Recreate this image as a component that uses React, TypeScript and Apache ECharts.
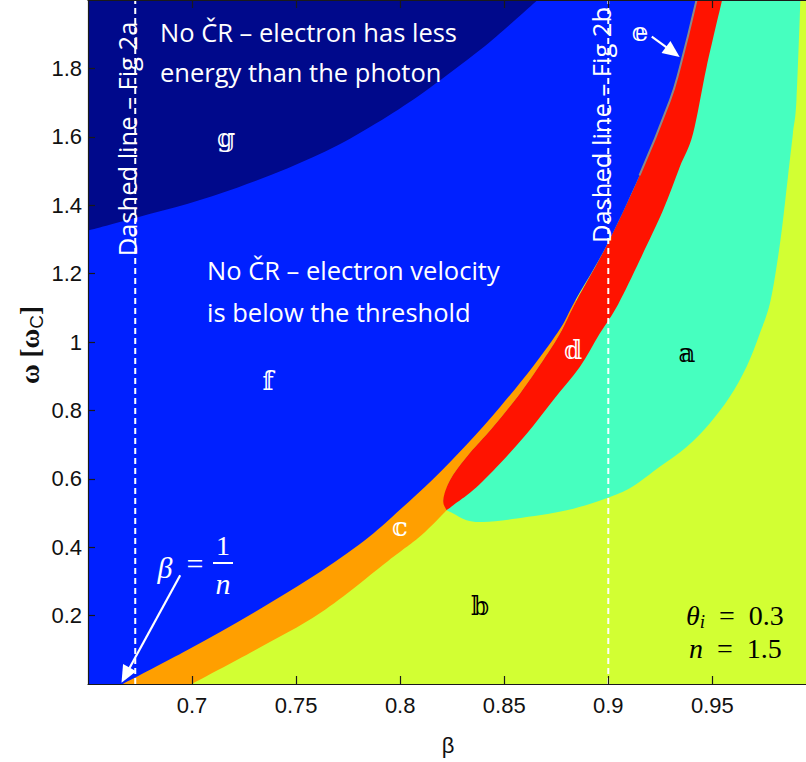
import React, { useEffect, useRef } from "react";
import * as echarts from "echarts";

// ---- axis ranges and ticks ----
const X_RANGE = [0.65, 0.995];
const Y_RANGE = [0, 2];
const X_TICKS = [0.7, 0.75, 0.8, 0.85, 0.9, 0.95];
const Y_TICKS = [0.2, 0.4, 0.6, 0.8, 1, 1.2, 1.4, 1.6, 1.8];

// ---- region boundary curves [beta, omega] ----
// upper boundary of the "electron has less energy" region (g)
const NAVY_CURVE = [
  [0.65, 1.326], [0.674, 1.365], [0.698, 1.404], [0.722, 1.452], [0.746, 1.508],
  [0.77, 1.575], [0.794, 1.66], [0.814, 1.742], [0.838, 1.852], [0.854, 1.935], [0.866, 2.0],
];
// Cherenkov threshold curve (boundary of region f)
const CURVE_B = [
  [0.6667, 0], [0.698, 0.1], [0.73, 0.21], [0.762, 0.33], [0.785, 0.43], [0.8, 0.51],
  [0.816, 0.6], [0.832, 0.7], [0.848, 0.81], [0.864, 0.93], [0.877, 1.04], [0.884, 1.12],
  [0.899, 1.28], [0.915, 1.487], [0.9296, 1.706], [0.9343, 1.8], [0.9424, 2.0],
];
// lower boundary of region c
const CURVE_O = [
  [0.6997, 0], [0.7302, 0.099], [0.7621, 0.21], [0.7942, 0.36], [0.8102, 0.435], [0.8223, 0.508],
];
// left boundary of region d (below where it meets the threshold curve)
const RED_LEFT = [
  [0.8223, 0.508], [0.8207, 0.5375], [0.8239, 0.596], [0.8319, 0.664], [0.8447, 0.752],
  [0.8575, 0.849], [0.8687, 0.9465], [0.8768, 1.0245], [0.8848, 1.122],
];
// right boundary of region d
const RED_RIGHT = [
  [0.8223, 0.508], [0.8255, 0.523], [0.8351, 0.567], [0.848, 0.645], [0.8608, 0.732],
  [0.8735, 0.83], [0.8863, 0.927], [0.8959, 1.0245], [0.9047, 1.11], [0.9151, 1.239],
  [0.9263, 1.385], [0.9343, 1.511], [0.9407, 1.609], [0.9472, 1.803], [0.9547, 2.0],
];
// lower / right boundary of region a
const CURVE_C = [
  [0.8223, 0.508], [0.8255, 0.4987], [0.8319, 0.479], [0.8399, 0.474], [0.856, 0.484],
  [0.88, 0.508], [0.9008, 0.547], [0.9119, 0.578], [0.9247, 0.635], [0.9376, 0.693],
  [0.9487, 0.762], [0.9583, 0.839], [0.9664, 0.927], [0.9728, 1.025], [0.978, 1.122],
  [0.9827, 1.297], [0.9863, 1.482], [0.9887, 1.609], [0.9904, 1.706], [0.9923, 2.0],
];
// dashed reference lines (Fig 2a, Fig 2b)
const FIG_LINES = [0.6727, 0.9];
// arrows: [from, to]
const ARROWS = [
  [[0.6943, 0.318], [0.6661, 0.004]],
  [[0.9209, 1.893], [0.9343, 1.833]],
];

// ---- colours ----
const C_YELLOW = "#D2FF33";
const C_CYAN = "#46FFBF";
const C_ORANGE = "#FF9F00";
const C_RED = "#FF1300";
const C_BLUE = "#0020FF";
const C_NAVY = "#00098B";
const C_GRAY = "#8A8A8A";
const WHITE = "#FFFFFF";

const xMin = X_RANGE[0];
const yMax = Y_RANGE[1];
const upperB = CURVE_B.filter((p) => p[1] > 1.122);
const RED_LEFT_FULL = [...RED_LEFT, ...upperB];
const GRAY_LINE = CURVE_B.filter((p) => p[1] >= 1.48);
const rev = (a: number[][]) => a.slice().reverse();

// each region: list of boundary curves, joined by straight segments
const REGION_PARTS: number[][][][] = [
  // a (cyan)
  [CURVE_C, rev(RED_LEFT_FULL)],
  // c (orange)
  [[[xMin, 0]], CURVE_O, RED_LEFT.slice(1), [[xMin, RED_LEFT[RED_LEFT.length - 1][1]]]],
  // d (red)
  [RED_LEFT_FULL, rev(RED_RIGHT)],
  // f (blue)
  [[[xMin, 0]], CURVE_B, [[xMin, yMax]]],
  // g (navy)
  [NAVY_CURVE, [[xMin, yMax]]],
];
const REGION_COLORS = [C_CYAN, C_ORANGE, C_RED, C_BLUE, C_NAVY];

const AXIS_FONT = "'Liberation Sans', Arial, sans-serif";
const TEXT_FONT = "'Open Sans', Lato, sans-serif";
const MATH_FONT = "'Liberation Serif', 'DejaVu Serif', serif";
const DS_FONT = "'DejaVu Serif', 'DejaVu Sans', serif";

// Catmull-Rom smoothing of each boundary curve (rendering only)
function smoothPath(curves: number[][][], api: any): string {
  let d = "";
  curves.forEach((curve, ci) => {
    const p = curve.map((pt) => api.coord(pt) as number[]);
    d += (ci === 0 ? "M" : "L") + p[0][0].toFixed(2) + " " + p[0][1].toFixed(2);
    for (let i = 0; i < p.length - 1; i++) {
      const p0 = p[Math.max(i - 1, 0)];
      const p1 = p[i];
      const p2 = p[i + 1];
      const p3 = p[Math.min(i + 2, p.length - 1)];
      const c1x = p1[0] + (p2[0] - p0[0]) / 6;
      const c1y = p1[1] + (p2[1] - p0[1]) / 6;
      const c2x = p2[0] - (p3[0] - p1[0]) / 6;
      const c2y = p2[1] - (p3[1] - p1[1]) / 6;
      d +=
        "C" + c1x.toFixed(2) + " " + c1y.toFixed(2) + " " + c2x.toFixed(2) + " " + c2y.toFixed(2) +
        " " + p2[0].toFixed(2) + " " + p2[1].toFixed(2);
    }
  });
  return d + "Z";
}

function regionLabel(ch: string, x: number, y: number, color: string) {
  return {
    type: "text",
    x,
    y,
    z: 100,
    style: {
      text: ch,
      fill: color,
      fontSize: 26,
      fontFamily: DS_FONT,
      textAlign: "center",
      textVerticalAlign: "middle",
    },
  };
}

function plainText(text: string, x: number, y: number, opts: any = {}) {
  return {
    type: "text",
    x,
    y,
    z: 100,
    rotation: opts.rotation || 0,
    style: {
      text,
      fill: opts.fill || WHITE,
      fontSize: opts.fontSize || 25.5,
      fontFamily: opts.fontFamily || TEXT_FONT,
      fontStyle: opts.fontStyle || "normal",
      textAlign: opts.align || "left",
      textVerticalAlign: "middle",
    },
  };
}

function buildOption() {
  const axisLineStyle = { color: "#1a1a1a", width: 1.2 };
  return {
    animation: false,
    backgroundColor: "#ffffff",
    grid: {
      left: 88,
      right: 0,
      top: 0,
      bottom: 78,
      show: true,
      backgroundColor: C_YELLOW,
      borderWidth: 0,
    },
    xAxis: [
      {
        type: "value",
        min: X_RANGE[0],
        max: X_RANGE[1],
        position: "bottom",
        z: 10,
        axisLine: { show: true, onZero: false, lineStyle: axisLineStyle },
        axisTick: { show: true, inside: true, length: 8, customValues: X_TICKS, lineStyle: axisLineStyle },
        axisLabel: {
          customValues: X_TICKS,
          fontFamily: AXIS_FONT,
          fontSize: 22,
          color: "#111",
          margin: 10,
        },
        splitLine: { show: false },
      },
      {
        type: "value",
        min: X_RANGE[0],
        max: X_RANGE[1],
        position: "top",
        z: 10,
        axisLine: { show: true, onZero: false, lineStyle: axisLineStyle },
        axisTick: { show: true, inside: true, length: 8, customValues: X_TICKS, lineStyle: axisLineStyle },
        axisLabel: { show: false },
        splitLine: { show: false },
      },
    ],
    yAxis: {
      type: "value",
      min: Y_RANGE[0],
      max: Y_RANGE[1],
      z: 10,
      axisLine: { show: true, onZero: false, lineStyle: axisLineStyle },
      axisTick: { show: true, inside: true, length: 7, customValues: Y_TICKS, lineStyle: axisLineStyle },
      axisLabel: {
        customValues: Y_TICKS,
        fontFamily: AXIS_FONT,
        fontSize: 22,
        color: "#111",
        margin: 6,
      },
      splitLine: { show: false },
    },
    series: [
      {
        type: "custom",
        coordinateSystem: "cartesian2d",
        xAxisIndex: 0,
        yAxisIndex: 0,
        clip: true,
        silent: true,
        data: REGION_PARTS.map((_, i) => [i]),
        renderItem: (params: any, api: any) => {
          const i = api.value(0) as number;
          return {
            type: "path",
            shape: { pathData: smoothPath(REGION_PARTS[i], api) },
            style: { fill: REGION_COLORS[i] },
          };
        },
      },
      ...FIG_LINES.map((x) => ({
        type: "line",
        xAxisIndex: 0,
        silent: true,
        symbol: "none",
        showSymbol: false,
        data: [
          [x, Y_RANGE[0]],
          [x, Y_RANGE[1]],
        ],
        lineStyle: { color: WHITE, width: 2, type: [6, 4] },
      })),
      {
        type: "line",
        xAxisIndex: 0,
        silent: true,
        symbol: "none",
        showSymbol: false,
        smooth: true,
        data: GRAY_LINE,
        lineStyle: { color: C_GRAY, width: 2 },
      },
      {
        type: "custom",
        coordinateSystem: "cartesian2d",
        xAxisIndex: 0,
        yAxisIndex: 0,
        clip: false,
        silent: true,
        z: 5,
        data: ARROWS.map((_, i) => [i]),
        renderItem: (params: any, api: any) => {
          const i = api.value(0) as number;
          const p = api.coord(ARROWS[i][0]);
          const q = api.coord(ARROWS[i][1]);
          const dx = q[0] - p[0];
          const dy = q[1] - p[1];
          const len = Math.sqrt(dx * dx + dy * dy);
          const ux = dx / len;
          const uy = dy / len;
          const L = 17;
          const W = 7.5;
          const bx = q[0] - ux * L;
          const by = q[1] - uy * L;
          return {
            type: "group",
            children: [
              {
                type: "line",
                shape: { x1: p[0], y1: p[1], x2: bx + ux * 2, y2: by + uy * 2 },
                style: { stroke: WHITE, lineWidth: 2.2 },
              },
              {
                type: "polygon",
                shape: {
                  points: [
                    [q[0], q[1]],
                    [bx - uy * W, by + ux * W],
                    [bx + uy * W, by - ux * W],
                  ],
                },
                style: { fill: WHITE },
              },
            ],
          };
        },
      },
    ],
    graphic: [
      plainText("No ČR – electron has less", 160, 32),
      plainText("energy than the photon", 160, 72),
      plainText("No ČR – electron velocity", 207, 270),
      plainText("is below the threshold", 207, 312),
      plainText("Dashed line – Fig 2a", 127, 139, { rotation: Math.PI / 2, align: "center" }),
      plainText("Dashed line – Fig 2b", 601, 125, { rotation: Math.PI / 2, align: "center" }),
      regionLabel("\u{1D552}", 687, 353, "#000000"),
      regionLabel("\u{1D553}", 480, 606, "#000000"),
      regionLabel("\u{1D554}", 400, 527, WHITE),
      regionLabel("\u{1D555}", 573, 350, WHITE),
      regionLabel("\u{1D556}", 640, 32, WHITE),
      regionLabel("\u{1D557}", 268, 381, WHITE),
      regionLabel("\u{1D558}", 226, 138, WHITE),
      // beta = 1/n
      plainText("β", 165, 567, { fontFamily: MATH_FONT, fontStyle: "italic", fontSize: 30, align: "center" }),
      plainText("=", 195, 563, { fontFamily: MATH_FONT, fontSize: 30, align: "center" }),
      plainText("1", 223, 545, { fontFamily: MATH_FONT, fontSize: 28, align: "center" }),
      plainText("n", 223, 583, { fontFamily: MATH_FONT, fontStyle: "italic", fontSize: 30, align: "center" }),
      {
        type: "line",
        z: 100,
        shape: { x1: 213, y1: 563, x2: 233, y2: 563 },
        style: { stroke: WHITE, lineWidth: 2 },
      },
      // parameters
      {
        type: "text",
        x: 686,
        y: 615,
        z: 100,
        style: {
          text: "{it|θ}{sub|i}{rm|\u2002=\u20020.3}",
          textVerticalAlign: "middle",
          rich: {
            it: { fontFamily: MATH_FONT, fontStyle: "italic", fontSize: 28, fill: "#000" },
            sub: { fontFamily: MATH_FONT, fontStyle: "italic", fontSize: 19, fill: "#000", padding: [12, 0, 0, 0] },
            rm: { fontFamily: MATH_FONT, fontSize: 28, fill: "#000" },
          },
        },
      },
      {
        type: "text",
        x: 689,
        y: 648,
        z: 100,
        style: {
          text: "{it|n}{rm|\u2002=\u20021.5}",
          textVerticalAlign: "middle",
          rich: {
            it: { fontFamily: MATH_FONT, fontStyle: "italic", fontSize: 28, fill: "#000" },
            rm: { fontFamily: MATH_FONT, fontSize: 28, fill: "#000" },
          },
        },
      },
      // axis titles
      {
        type: "text",
        x: 30,
        y: 345,
        rotation: Math.PI / 2,
        z: 100,
        style: {
          text: "{w|ω [ω}{s|C}{w|]}",
          textAlign: "center",
          textVerticalAlign: "middle",
          rich: {
            w: { fontFamily: MATH_FONT, fontWeight: "bold", fontSize: 27, fill: "#111" },
            s: { fontFamily: AXIS_FONT, fontSize: 19, fill: "#111", padding: [12, 0, 0, 0] },
          },
        },
      },
      plainText("β", 448, 745, { fontFamily: AXIS_FONT, fontSize: 22, fill: "#111", align: "center" }),
    ],
  };
}

export default function App() {
  const ref = useRef<HTMLDivElement>(null);
  useEffect(() => {
    document.body.style.margin = "0";
    if (!ref.current) return;
    const chart = echarts.init(ref.current, null, { renderer: "svg" });
    chart.setOption(buildOption() as any);
    return () => chart.dispose();
  }, []);
  return (
    <div
      ref={ref}
      style={{ position: "absolute", left: 0, top: 0, width: 806, height: 762, background: "#fff" }}
    />
  );
}
